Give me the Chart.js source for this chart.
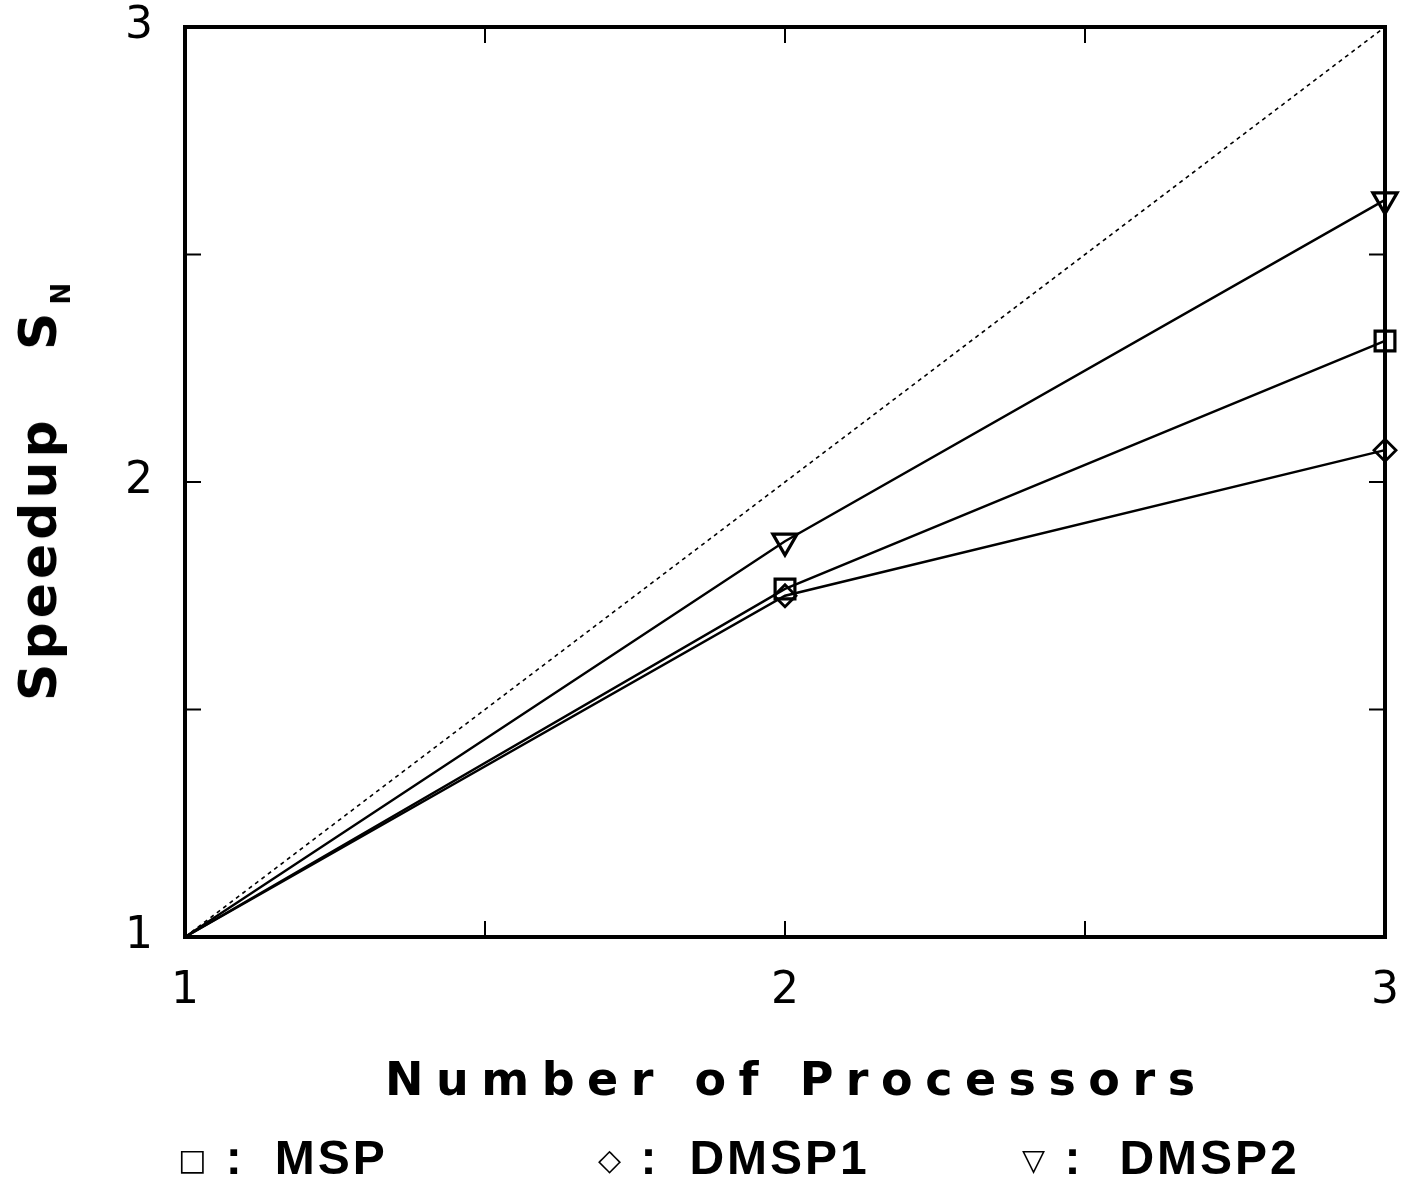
<!DOCTYPE html>
<html lang="en">
<head>
    <meta charset="UTF-8">
    <title>Speedup vs Number of Processors</title>
    <script src="https://cdn.jsdelivr.net/npm/chart.js"></script>
    <style>
        body {
            margin: 0;
            padding: 0;
            background: #fff;
        }
        .wrap {
            position: relative;
            width: 1424px;
            height: 1184px;
        }
        #speedupChart {
            position: absolute;
            left: 0;
            top: 0;
        }
        .y-title {
            position: absolute;
            left: 42px;
            top: 490px;
            transform: translate(-50%, -50%) rotate(-90deg);
            font-family: 'DejaVu Sans', sans-serif;
            font-weight: bold;
            font-size: 52px;
            letter-spacing: 4px;
            white-space: nowrap;
            color: #000;
        }
        .y-title sub {
            font-size: 26px;
            vertical-align: -14px;
            margin-left: 4px;
        }
        .x-title {
            position: absolute;
            left: 385px;
            top: 1052px;
            font-family: 'DejaVu Sans', sans-serif;
            font-weight: bold;
            font-size: 46px;
            letter-spacing: 12.5px;
            white-space: nowrap;
            color: #000;
        }
        .legend-item {
            position: absolute;
            top: 1130px;
            font-family: 'Liberation Sans', Arial, sans-serif;
            font-weight: bold;
            font-size: 48px;
            letter-spacing: 3px;
            white-space: nowrap;
            color: #000;
        }
        .legend-item .sym {
            font-family: 'DejaVu Sans', sans-serif;
            font-weight: normal;
            font-size: 30px;
            vertical-align: 4px;
        }
        .legend-item .name {
            margin-left: 30px;
        }
    </style>
</head>
<body>
    <div class="wrap">
        <canvas id="speedupChart" width="1424" height="1184"></canvas>
        <div class="y-title">Speedup&nbsp;&nbsp;&nbsp;S<sub>N</sub></div>
        <div class="x-title">Number of Processors</div>
        <div class="legend-item" style="left:178px;"><span class="sym">□</span> :<span class="name">MSP</span></div>
        <div class="legend-item" style="left:598px;"><span class="sym">◇</span> :<span class="name">DMSP1</span></div>
        <div class="legend-item" style="left:1022px;"><span class="sym">▽</span> :<span class="name" style="margin-left:36px;">DMSP2</span></div>
    </div>
    <script>
        // values
        const processors = [1, 2, 3];
        const ideal = [1, 2, 3];
        const msp = [1, 1.765, 2.31];
        const dmsp1 = [1, 1.75, 2.07];
        const dmsp2 = [1, 1.87, 2.62];
        const tickStep = 0.5;

        const toPoints = ys => processors.map((x, i) => ({ x: x, y: ys[i] }));

        // frame box and inward tick marks on all four sides
        const framePlugin = {
            id: 'frame',
            afterDraw(chart) {
                const ctx = chart.ctx;
                const a = chart.chartArea;
                const xs = chart.scales.x, ys = chart.scales.y;
                const len = 16;
                ctx.save();
                ctx.strokeStyle = '#000';
                ctx.lineWidth = 2;
                xs.ticks.forEach(t => {
                    if (t.value <= xs.min || t.value >= xs.max) return;
                    const px = xs.getPixelForValue(t.value);
                    ctx.beginPath();
                    ctx.moveTo(px, a.bottom); ctx.lineTo(px, a.bottom - len);
                    ctx.moveTo(px, a.top); ctx.lineTo(px, a.top + len);
                    ctx.stroke();
                });
                ys.ticks.forEach(t => {
                    if (t.value <= ys.min || t.value >= ys.max) return;
                    const py = ys.getPixelForValue(t.value);
                    ctx.beginPath();
                    ctx.moveTo(a.left, py); ctx.lineTo(a.left + len, py);
                    ctx.moveTo(a.right, py); ctx.lineTo(a.right - len, py);
                    ctx.stroke();
                });
                ctx.lineWidth = 4;
                ctx.strokeRect(a.left, a.top, a.right - a.left, a.bottom - a.top);
                ctx.restore();
            }
        };

        const labelIntegers = v => Number.isInteger(v) ? String(v) : '';

        new Chart(document.getElementById('speedupChart'), {
            type: 'line',
            data: {
                datasets: [
                    {
                        label: 'Ideal',
                        data: toPoints(ideal),
                        borderColor: '#000',
                        borderWidth: 1.6,
                        borderDash: [4, 4],
                        pointRadius: 0,
                        clip: false
                    },
                    {
                        label: 'DMSP2',
                        data: toPoints(dmsp2),
                        borderColor: '#000',
                        borderWidth: 2.4,
                        pointStyle: 'triangle',
                        rotation: 180,
                        pointRadius: [0, 14, 14],
                        pointBorderWidth: 3.2,
                        pointBackgroundColor: 'rgba(0,0,0,0)',
                        pointBorderColor: '#000',
                        clip: false
                    },
                    {
                        label: 'MSP',
                        data: toPoints(msp),
                        borderColor: '#000',
                        borderWidth: 2.4,
                        pointStyle: 'rect',
                        pointRadius: [0, 14, 14],
                        pointBorderWidth: 3.2,
                        pointBackgroundColor: 'rgba(0,0,0,0)',
                        pointBorderColor: '#000',
                        clip: false
                    },
                    {
                        label: 'DMSP1',
                        data: toPoints(dmsp1),
                        borderColor: '#000',
                        borderWidth: 2.4,
                        pointStyle: 'rectRot',
                        pointRadius: [0, 11, 11],
                        pointBorderWidth: 2.8,
                        pointBackgroundColor: 'rgba(0,0,0,0)',
                        pointBorderColor: '#000',
                        clip: false
                    }
                ]
            },
            options: {
                responsive: false,
                animation: false,
                devicePixelRatio: 1,
                layout: { padding: { top: 27, right: 39, left: 0, bottom: 0 } },
                plugins: {
                    legend: { display: false },
                    tooltip: { enabled: false }
                },
                scales: {
                    x: {
                        type: 'linear',
                        min: 1,
                        max: 3,
                        grid: { display: false },
                        border: { display: false },
                        ticks: {
                            stepSize: tickStep,
                            autoSkip: false,
                            maxRotation: 0,
                            padding: 20,
                            color: '#000',
                            font: { family: 'DejaVu Sans', size: 44 },
                            callback: labelIntegers
                        },
                        afterFit: s => {
                            s.height = 247;
                            s.paddingLeft = 0;
                            s.paddingRight = 0;
                        }
                    },
                    y: {
                        type: 'linear',
                        min: 1,
                        max: 3,
                        grid: { display: false },
                        border: { display: false },
                        ticks: {
                            stepSize: tickStep,
                            autoSkip: false,
                            padding: 24,
                            color: '#000',
                            font: { family: 'DejaVu Sans', size: 44 },
                            callback: labelIntegers
                        },
                        afterFit: s => {
                            s.width = 185;
                            s.paddingTop = 0;
                            s.paddingBottom = 0;
                        }
                    }
                }
            },
            plugins: [framePlugin]
        });
    </script>
</body>
</html>
